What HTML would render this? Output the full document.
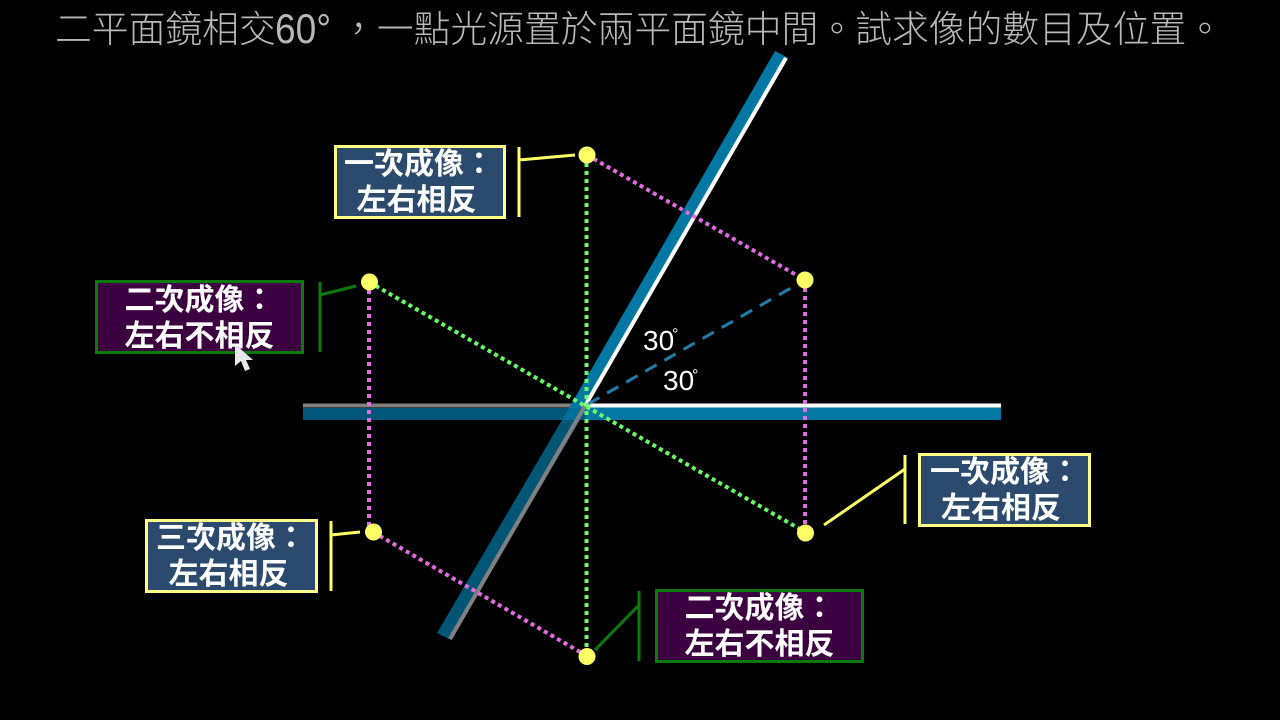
<!DOCTYPE html>
<html lang="zh-Hant">
<head>
<meta charset="utf-8">
<title>二平面鏡成像</title>
<style>
html,body{margin:0;padding:0;background:#000;width:1280px;height:720px;overflow:hidden}
svg{display:block}
text{font-family:"Liberation Sans","Noto Sans CJK TC",sans-serif}
.t{font-size:36.8px;fill:#b8b8b8;font-weight:300;font-family:"Liberation Sans","Noto Sans CJK TC",sans-serif}
.n{font-size:42px;fill:#b8b8b8;font-family:"Liberation Sans",sans-serif}
.l{font-size:30px;fill:#fff;font-weight:700;text-anchor:middle;font-family:"Liberation Sans","Noto Sans CJK TC",sans-serif}
.a{font-size:28px;fill:#fff;font-family:"Liberation Sans",sans-serif}
.d{font-size:16px;fill:#fff;font-family:"Liberation Sans",sans-serif}
</style>
</head>
<body>
<svg width="1280" height="720" viewBox="0 0 1280 720" xmlns="http://www.w3.org/2000/svg">
<rect width="1280" height="720" fill="#000"/>
<text class="t" x="55" y="42">二平面鏡相交</text>
<text class="n" x="275" y="43" textLength="56" lengthAdjust="spacingAndGlyphs">60°</text>
<text class="t" x="340" y="42">，一點光源置於兩平面鏡中間。試求像的數目及位置。</text>

<!-- mirrors -->
<polygon points="303,408 586,408 586,420 303,420" fill="#03587a"/>
<polygon points="586,406 1001,406 1001,420 586,420" fill="#0277a4"/>
<line x1="303" y1="405.500" x2="586" y2="405.500" stroke="#808080" stroke-width="4"/>
<polygon points="569,408 587,408 451,640 437,633" fill="#0277a4" fill-opacity=".72"/>
<polygon points="775,51 788,58 585,408 569,408" fill="#0277a4"/>
<line x1="586" y1="405.500" x2="1001" y2="405.500" stroke="#fff" stroke-width="4"/>
<line x1="585" y1="406" x2="450" y2="639" stroke="#808080" stroke-width="4"/>
<line x1="786" y1="58" x2="585" y2="406" stroke="#fff" stroke-width="4"/>

<!-- dashed bisector -->
<line x1="588" y1="404" x2="805" y2="280" stroke="#1f7ea8" stroke-width="3" stroke-dasharray="13 9"/>

<!-- dotted rays -->
<g stroke-width="4" fill="none">
<line x1="586.500" y1="155" x2="586.500" y2="656" stroke="#66ff66" stroke-dasharray="4 4"/>
<line x1="369" y1="282" x2="805" y2="532" stroke="#66ff66" stroke-dasharray="4 3.600"/>
<line x1="587" y1="155" x2="805" y2="280" stroke="#e36be3" stroke-dasharray="4 3.600"/>
<line x1="805" y1="280" x2="805" y2="532" stroke="#e36be3" stroke-dasharray="4 4"/>
<line x1="369" y1="282" x2="369" y2="532" stroke="#e36be3" stroke-dasharray="4 4"/>
<line x1="373" y1="532" x2="587" y2="656" stroke="#e36be3" stroke-dasharray="4 3.600"/>
</g>

<!-- points -->
<g fill="#ffff66">
<circle cx="587" cy="155" r="8.500"/>
<circle cx="805" cy="280" r="8.500"/>
<circle cx="369.500" cy="282" r="8.500"/>
<circle cx="373.500" cy="532" r="8.500"/>
<circle cx="805.500" cy="533" r="8.500"/>
<circle cx="587" cy="656.500" r="8.500"/>
</g>

<!-- angle labels -->
<text class="a" x="643" y="350">30</text>
<text class="d" x="672" y="339">°</text>
<text class="a" x="663" y="390">30</text>
<text class="d" x="692" y="380">°</text>

<!-- callout leaders -->
<g fill="none" stroke="#ffff66" stroke-width="3">
<path d="M519,147V217M519,160L575,155"/>
<path d="M905,455V524M905,469L824,525"/>
<path d="M331,521V591M331,535L360,532"/>
</g>
<g fill="none" stroke="#0b7a0b" stroke-width="3">
<path d="M320,282V352M320,295L356,286"/>
<path d="M639,591V661M639,605L595,650"/>
</g>

<!-- boxes -->
<g stroke-width="3">
<rect x="335.500" y="146.500" width="169" height="71" fill="#2b4a6e" stroke="#ffff88"/>
<rect x="919.500" y="454.500" width="170" height="71" fill="#2b4a6e" stroke="#ffff88"/>
<rect x="146.500" y="520.500" width="170" height="71" fill="#2b4a6e" stroke="#ffff88"/>
<rect x="96.500" y="281.500" width="206" height="71" fill="#3c0040" stroke="#0b7a0b"/>
<rect x="656.500" y="590.500" width="206" height="71" fill="#3c0040" stroke="#0b7a0b"/>
</g>

<text class="l" x="419" y="174">一次成像：</text>
<text class="l" x="416.500" y="210">左右相反</text>
<text class="l" x="1005" y="482">一次成像：</text>
<text class="l" x="1001" y="518">左右相反</text>
<text class="l" x="231" y="548">三次成像：</text>
<text class="l" x="228.500" y="584">左右相反</text>
<text class="l" x="199.500" y="310">二次成像：</text>
<text class="l" x="199.500" y="346">左右不相反</text>
<text class="l" x="759.500" y="618">二次成像：</text>
<text class="l" x="759.500" y="654">左右不相反</text>

<!-- cursor -->
<polygon points="235,344 235,366 241,361 245,371 250,369 246,360 253,360" fill="#e8e8e8"/>
</svg>
</body>
</html>
